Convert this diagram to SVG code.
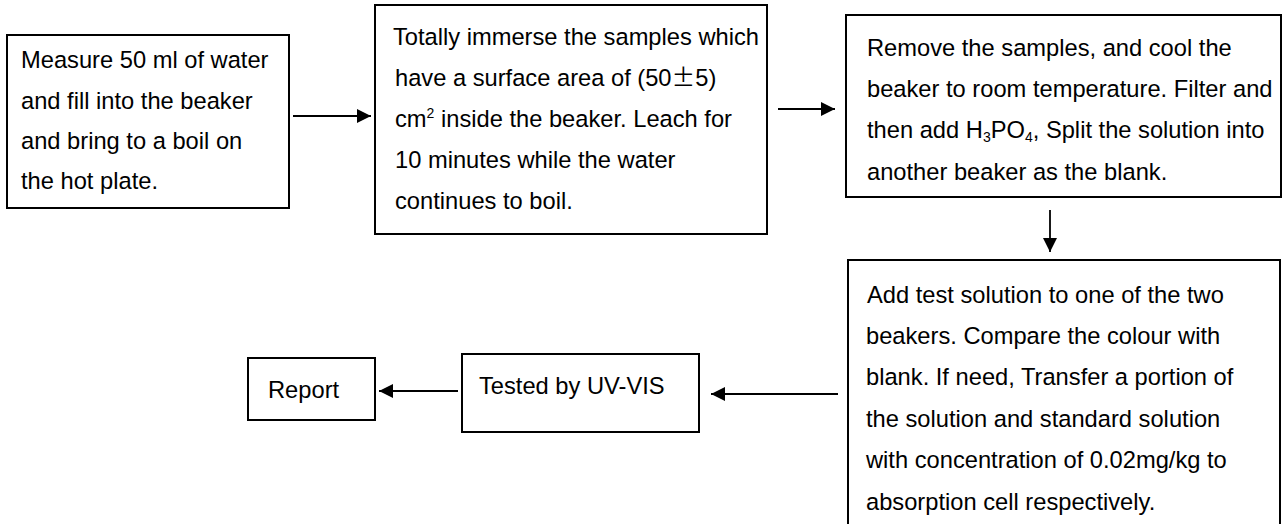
<svg xmlns="http://www.w3.org/2000/svg" width="1284" height="524" viewBox="0 0 1284 524">
<defs>
<style>
.box{fill:#fff;stroke:#000;stroke-width:2}
.t{font-family:"Liberation Sans",Arial,sans-serif;font-size:23.7px;fill:#000}
.c{stroke:#000;stroke-width:1.8;fill:none}
</style>
<marker id="ah" viewBox="0 0 10 10" refX="10" refY="5" markerWidth="16" markerHeight="14" markerUnits="userSpaceOnUse" orient="auto">
<path d="M0,0 L10,5 L0,10 Z" fill="#000"/>
</marker>
</defs>
<rect width="1284" height="524" fill="#fff"/>
<g id="n1">
<rect class="box" x="7" y="35" width="282" height="173"/>
<text class="t" x="21" y="68">Measure 50 ml of water</text>
<text class="t" x="21" y="108.5">and fill into the beaker</text>
<text class="t" x="21" y="149">and bring to a boil on</text>
<text class="t" x="21" y="189">the hot plate.</text>
</g>
<g id="n2">
<rect class="box" x="375" y="5" width="392" height="229"/>
<text class="t" x="393" y="45">Totally immerse the samples which</text>
<text class="t" x="395" y="86">have a surface area of (50<tspan font-family="'Noto Sans CJK SC',sans-serif">±</tspan>5)</text>
<text class="t" x="395" y="127">cm<tspan font-size="14" dy="-9">2</tspan><tspan dy="9"> inside the beaker. Leach for</tspan></text>
<text class="t" x="395" y="168">10 minutes while the water</text>
<text class="t" x="395" y="209">continues to boil.</text>
</g>
<g id="n3">
<rect class="box" x="846" y="15" width="435" height="182"/>
<text class="t" x="867" y="56">Remove the samples, and cool the</text>
<text class="t" x="867" y="97">beaker to room temperature. Filter and</text>
<text class="t" x="867" y="138">then add H<tspan font-size="14" dy="4">3</tspan><tspan dy="-4">PO</tspan><tspan font-size="14" dy="4">4</tspan><tspan dy="-4">, Split the solution into</tspan></text>
<text class="t" x="867" y="180">another beaker as the blank.</text>
</g>
<g id="n4">
<rect class="box" x="848" y="260" width="432" height="275"/>
<text class="t" x="867" y="303">Add test solution to one of the two</text>
<text class="t" x="866" y="344">beakers. Compare the colour with</text>
<text class="t" x="866" y="385">blank. If need, Transfer a portion of</text>
<text class="t" x="866" y="427">the solution and standard solution</text>
<text class="t" x="866" y="468">with concentration of 0.02mg/kg to</text>
<text class="t" x="866" y="510">absorption cell respectively.</text>
</g>
<g id="n5">
<rect class="box" x="462" y="354" width="237" height="78"/>
<text class="t" x="479" y="394">Tested by UV-VIS</text>
</g>
<g id="n6">
<rect class="box" x="248" y="358" width="127" height="62"/>
<text class="t" x="268" y="398">Report</text>
</g>
<g id="connectors">
<line class="c" x1="293" y1="116" x2="371" y2="116" marker-end="url(#ah)"/>
<line class="c" x1="778" y1="109" x2="835" y2="109" marker-end="url(#ah)"/>
<line class="c" x1="1050" y1="210" x2="1050" y2="252" marker-end="url(#ah)"/>
<line class="c" x1="838" y1="394" x2="711" y2="394" marker-end="url(#ah)"/>
<line class="c" x1="458" y1="391" x2="379" y2="391" marker-end="url(#ah)"/>
</g>
</svg>
